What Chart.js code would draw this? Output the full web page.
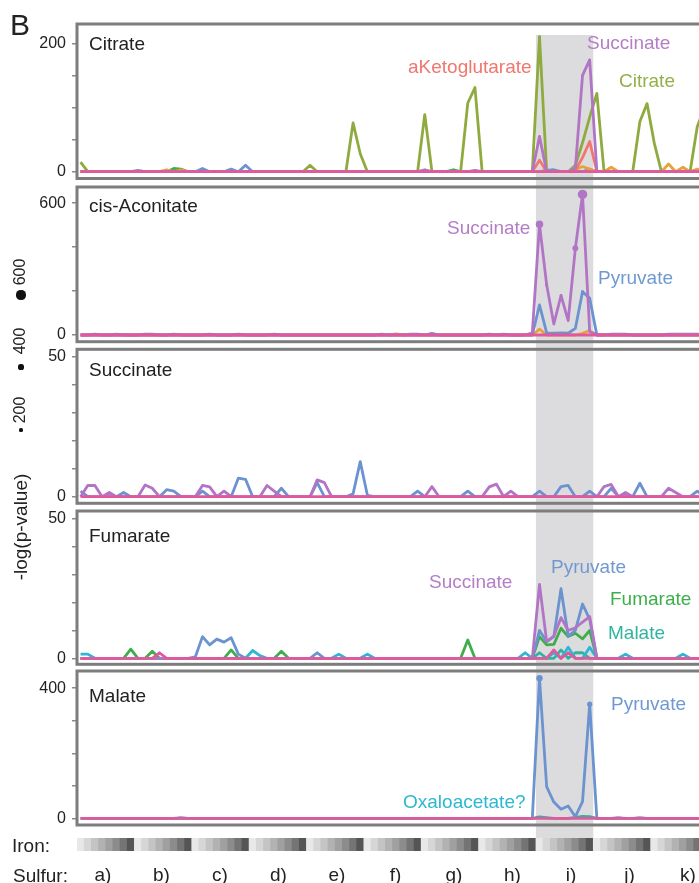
<!DOCTYPE html>
<html>
<head>
<meta charset="utf-8">
<script src="https://cdn.jsdelivr.net/npm/chart.js@4.4.1/dist/chart.umd.min.js"></script>
<style>
  body { margin: 0; background: #fff; }
  #fig { position: relative; width: 699px; height: 883px; overflow: hidden;
         font-family: "Liberation Sans", Arial, sans-serif; color: #222; }
  #fig canvas { position: absolute; left: 0; }
  #labels { position: absolute; left: 0; top: 0; width: 699px; height: 883px; z-index: 2; }
  .lbl { position: absolute; font-size: 19px; line-height: 19px; white-space: nowrap; }
  .rot { position: absolute; white-space: nowrap; line-height: 1; transform: translate(-50%, -50%) rotate(-90deg); }
  .dot { position: absolute; background: #111; border-radius: 50%; }
</style>
</head>
<body>
<div id="fig">
  <div id="labels">
    <div class="lbl" style="left:10px; top:10px; font-size:30px; line-height:30px;">B</div>

    <div class="rot" style="left:20px; top:527px; font-size:19px;">-log(p-value)</div>
    <div class="rot" style="left:20px; top:410px; font-size:16px;">200</div>
    <div class="rot" style="left:20px; top:341px; font-size:16px;">400</div>
    <div class="rot" style="left:20px; top:272px; font-size:16px;">600</div>
    <div class="dot" style="left:19.4px; top:428.4px; width:3.2px; height:3.2px;"></div>
    <div class="dot" style="left:18.4px; top:364.4px; width:5.2px; height:5.2px;"></div>
    <div class="dot" style="left:16.4px; top:290.4px; width:9.2px; height:9.2px;"></div>

    <div class="lbl" style="left:89px; top:34px;">Citrate</div>
    <div class="lbl" style="left:89px; top:196px;">cis-Aconitate</div>
    <div class="lbl" style="left:89px; top:360px;">Succinate</div>
    <div class="lbl" style="left:89px; top:526px;">Fumarate</div>
    <div class="lbl" style="left:89px; top:686px;">Malate</div>

    <div class="lbl" style="left:408px; top:57px; color:#f0766e;">aKetoglutarate</div>
    <div class="lbl" style="left:587px; top:33px; color:#b47ec6;">Succinate</div>
    <div class="lbl" style="left:619px; top:71px; color:#95b04a;">Citrate</div>
    <div class="lbl" style="left:447px; top:218px; color:#b47ec6;">Succinate</div>
    <div class="lbl" style="left:598px; top:268px; color:#7099d2;">Pyruvate</div>
    <div class="lbl" style="left:551px; top:557px; color:#7099d2;">Pyruvate</div>
    <div class="lbl" style="left:429px; top:572px; color:#b47ec6;">Succinate</div>
    <div class="lbl" style="left:610px; top:589px; color:#3fae4a;">Fumarate</div>
    <div class="lbl" style="left:608px; top:623px; color:#2fb59d;">Malate</div>
    <div class="lbl" style="left:611px; top:694px; color:#7099d2;">Pyruvate</div>
    <div class="lbl" style="left:403px; top:792px; color:#2db8d2;">Oxaloacetate?</div>

    <div class="lbl" style="left:12px; top:836px;">Iron:</div>
    <div class="lbl" style="left:13px; top:866px;">Sulfur:</div>
  </div>
</div>
<script>
// 11 sulfur conditions, each with 8 iron levels -> 88 samples
const sulfur = ['a)', 'b)', 'c)', 'd)', 'e)', 'f)', 'g)', 'h)', 'i)', 'j)', 'k)'];
const ironLevel = [
  0,1,2,3,4,5,6,7,  0,1,2,3,4,5,6,7,  0,1,2,3,4,5,6,7,  0,1,2,3,4,5,6,7,
  0,1,2,3,4,5,6,7,  0,1,2,3,4,5,6,7,  0,1,2,3,4,5,6,7,  0,1,2,3,4,5,6,7,
  0,1,2,3,4,5,6,7,  0,1,2,3,4,5,6,7,  0,1,2,3,4,5,6,7
];
const ironShades = ['#e8e8e8', '#d6d6d6', '#c4c4c4', '#b2b2b2', '#a0a0a0', '#8c8c8c', '#747474', '#555555'];
const bandSamples = [64, 71]; // condition i)

// Citrate panel
const p1Pink = [
  0,0,0,0,0,0,0,0,  0,0,0,0,0,0,0,0,  0,0,0,0,0,0,0,0,  0,0,0,0,0,0,0,0,
  0,0,0,0,0,0,0,0,  0,0,0,0,0,0,0,0,  0,0,0,0,0,0,0,0,  0,0,0,0,0,0,0,0,
  0,0,0,0,0,0,0,0,  0,0,0,0,0,0,0,0,  0,0,0,0,0,0,0,0
];
const p1Citrate = [
  15,0,0,0,0,0,0,0,  0,0,0,0,0,0,0,0,  0,0,0,0,0,0,0,0,  0,0,0,0,0,0,0,0,
  10,0,0,0,0,0,76,28,  0,0,0,0,0,0,0,0,  89,0,0,0,0,0,107,131,  0,0,0,0,0,0,0,0,
  210,0,0,0,0,10,45,85,  122,0,0,0,0,0,78,106,  45,0,0,0,0,0,70,100
];
const p1Succinate = [
  0,0,0,0,0,0,0,0,  0,0,0,0,0,0,0,0,  0,0,0,0,0,0,0,0,  0,0,0,0,0,0,0,0,
  0,0,0,0,0,0,0,0,  0,0,0,0,0,0,0,0,  3,0,0,0,0,0,0,2,  0,0,0,0,0,0,0,0,
  55,0,0,0,0,5,150,174,  0,0,0,0,0,0,0,0,  0,0,0,0,0,0,0,0
];
const p1Akg = [
  0,0,0,0,0,0,0,0,  0,0,0,0,0,0,0,0,  0,0,0,0,0,0,0,0,  0,0,0,0,0,0,0,0,
  0,0,0,0,0,0,0,0,  0,0,0,0,0,0,0,0,  0,0,0,0,0,0,0,0,  0,0,0,0,0,0,0,0,
  18,0,0,0,0,2,22,47,  0,0,0,0,0,0,0,0,  0,0,0,0,0,0,0,0
];
const p1Orange = [
  0,0,0,0,0,0,0,0,  0,0,0,0,3,0,3,0,  0,0,0,0,0,0,0,0,  0,0,0,0,0,0,0,0,
  0,0,0,0,0,0,0,0,  0,0,0,0,0,0,0,0,  0,0,0,0,0,0,0,0,  0,0,0,0,0,0,0,0,
  0,0,0,0,0,3,8,4,  0,0,7,0,0,0,0,0,  0,0,12,0,7,0,4,0
];
const p1Pyruvate = [
  0,0,0,0,0,0,0,0,  2,0,0,0,0,0,0,0,  0,5,0,0,0,4,0,10,  0,0,0,0,0,0,0,0,
  0,0,0,0,0,0,0,0,  0,0,0,0,0,0,0,0,  0,0,0,0,0,0,0,0,  0,0,0,0,0,0,0,0,
  0,2,3,0,0,0,0,4,  0,0,0,0,0,0,0,0,  0,0,0,0,0,0,0,0
];
const p1Fumarate = [
  0,0,0,0,0,0,0,0,  0,0,0,0,0,5,4,0,  0,0,0,0,0,0,0,0,  0,0,0,0,0,0,0,0,
  0,0,0,0,0,0,0,0,  0,0,0,0,0,0,0,0,  0,0,0,0,3,0,0,0,  0,0,0,0,0,0,0,0,
  0,0,0,0,0,0,0,0,  0,0,0,0,0,0,0,0,  0,0,0,0,0,0,0,0
];

// cis-Aconitate panel
const p2Pink = [
  0,0,0,0,0,0,0,0,  0,0,0,0,0,0,0,0,  0,0,0,0,0,0,0,0,  0,0,0,0,0,0,0,0,
  0,0,0,0,0,0,0,0,  0,0,0,0,0,0,0,0,  0,0,0,0,0,0,0,0,  0,0,0,0,0,0,0,0,
  0,0,0,0,0,0,0,0,  0,0,0,0,0,0,0,0,  0,0,0,0,0,0,0,0
];
const p2Succinate = [
  0,0,0,0,0,0,0,0,  0,0,0,0,0,0,0,0,  0,0,0,0,0,0,0,0,  0,0,0,0,0,0,0,0,
  0,0,0,0,0,0,0,0,  0,0,0,0,0,0,0,0,  0,0,0,0,0,0,0,0,  0,0,0,0,0,0,0,10,
  504,228,50,180,65,395,640,15,  0,0,0,0,0,0,0,0,  0,0,0,0,0,0,0,0
];
const p2Pyruvate = [
  0,0,4,0,0,4,0,0,  0,4,4,0,0,4,0,0,  0,0,4,0,0,0,4,0,  0,0,0,4,0,0,0,0,
  0,0,0,0,0,0,0,0,  0,0,4,0,0,0,4,4,  0,8,0,0,0,0,0,0,  0,4,0,4,0,0,0,0,
  137,10,8,10,8,30,197,167,  0,0,4,4,4,0,0,0,  0,0,4,4,4,4,4,0
];
const p2Orange = [
  0,0,0,0,0,0,0,0,  0,0,0,0,0,0,0,0,  0,0,0,0,0,0,0,0,  0,0,0,0,0,0,0,0,
  0,0,0,0,0,0,0,0,  0,0,0,0,5,0,0,0,  0,0,0,0,0,0,0,0,  0,0,0,0,0,0,0,0,
  27,0,0,0,0,0,8,20,  0,0,0,0,0,0,0,0,  0,0,0,0,0,0,0,0
];

// Succinate panel
const p3Pink = [
  0,0,0,0,0,0,0,0,  0,0,0,0,0,0,0,0,  0,0,0,0,0,0,0,0,  0,0,0,0,0,0,0,0,
  0,0,0,0,0,0,0,0,  0,0,0,0,0,0,0,0,  0,0,0,0,0,0,0,0,  0,0,0,0,0,0,0,0,
  0,0,0,0,0,0,0,0,  0,0,0,0,0,0,0,0,  0,0,0,0,0,0,0,0
];
const p3Succinate = [
  0,4,4,0,1.5,0,0,0,  0,4.2,3,0,0,0,0,0,  0,4,3.5,0,2,0,0,0,  0,0,4,2,0,0,0,0,
  0,6,5,0,0,0,0,0,  0,0,0,0,0,0,0,0,  0,3.6,0,0,0,0,0,0,  0,3.5,4.5,0,2,0,0,0,
  0,0,0,0,0,0,0,0,  0,3.6,4.4,0,1.5,0,0,0,  0,0,3,1.5,0,0,0,0
];
const p3Pyruvate = [
  2,0,0,0,0,0,1.5,0,  0,0,0,0,2.5,2,0,0,  0,2,0,0,0,0,6.6,6.2,  0,0,0,0,3,0,0,0,
  0,5,0,0,0,0,1,12.5,  0.5,0,0,0,0,0,0,2,  0,0,0,0,0,0,2,0,  0,0,0,0,0,0,0,0,
  2,0,0,3.6,4,0,0,2,  0,0,3,0,0,0,4.8,0,  0,0,0,0,0,0,2,0
];

// Fumarate panel
const p4Pink = [
  0,0,0,0,0,0,0,0,  0,0,0,2,0,0,0,0,  0,0,0,0,0,0,0,0,  0,0,0,0,0,0,0,0,
  0,0,0,0,0,0,0,0,  0,0,0,0,0,0,0,0,  0,0,0,0,0,0,0,0,  0,0,0,0,0,0,0,0,
  0,0,3,0,2,0,0,0,  0,0,0,0,0,0,0,0,  0,0,0,0,0,0,0,0
];
const p4Pyruvate = [
  0,0,0,0,0,0,0,0,  0,0,0,0,0,0,0,0,  0.5,7.8,4.8,6.9,5.8,7.4,1.5,0,  0,0,0,0,0,0,0,0,
  0,2,0,0,0,0,0,0,  0,0,0,0,0,0,0,0,  0,0,0,0,0,0,0,0,  0,0,0,0,0,0,0,0,
  10,6,7.8,25,8,10,19.5,14,  0,0,0,0,0,0,0,0,  0,0,0,0,0,0,0,0
];
const p4Succinate = [
  0,0,0,0,0,0,0,0,  0,0,0,0,0,0,0,0,  0,0,0,0,0,0,0,0,  0,0,0,0,0,0,0,0,
  0,0,0,0,0,0,0,0,  0,0,0,0,0,0,0,0,  0,0,0,0,0,0,0,0,  0,0,0,0,0,0,0,0,
  26.5,6,8,14.6,10,11,13,15,  0,0,0,0,0,0,0,0,  0,0,0,0,0,0,0,0
];
const p4Fumarate = [
  0,0,0,0,0,0,0,3.3,  0,0,2.5,0,0,0,0,0,  0,0,0,0,0,3,0,0,  0,0,0,0,2.5,0,0,0,
  0,0,0,0,0,0,0,0,  0,0,0,0,0,0,0,0,  0,0,0,0,0,0,6.6,0,  0,0,0,0,0,0,0,0,
  7.8,4.8,5,10.8,7.8,9,7,10,  0,0,0,0,0,0,0,0,  0,0,0,0,0,0,0,0
];
const p4Malate = [
  0,0,0,0,0,0,0,0,  0,0,0,0,0,0,0,0,  0,0,0,0,0,0,0,0,  0,0,0,0,0,0,0,0,
  0,0,0,0,0,0,0,0,  0,0,0,0,0,0,0,0,  0,0,0,0,0,0,0,0,  0,0,0,0,0,0,0,0,
  2,0,0,3,0,2,2,0,  0,0,0,0,0,0,0,0,  0,0,0,0,0,0,0,0
];
const p4Oxalo = [
  1.5,1.5,0,0,0,0,0,0,  0,0,0,0,0,0,0,0,  0,0,0,0,0,0,0,0,  2.8,1,0,0,0,0,0,0,
  0,0,0,0,1.5,0,0,0,  1.5,0,0,0,0,0,0,0,  0,0,0,0,0,0,0,0,  0,0,0,0,0,0,2,0,
  0,0,2,0,4,0,0,4,  0,0,0,0,1.5,0,0,0,  0,0,0,0,1.5,0,0,0
];

// Malate panel
const p5Pink = [
  0,0,0,0,0,0,0,0,  0,0,0,0,0,0,0,0,  0,0,0,0,0,0,0,0,  0,0,0,0,0,0,0,0,
  0,0,0,0,0,0,0,0,  0,0,0,0,0,0,0,0,  0,0,0,0,0,0,0,0,  0,0,0,0,0,0,0,0,
  0,0,0,0,0,0,0,0,  0,0,0,0,0,0,0,0,  0,0,0,0,0,0,0,0
];
const p5Pyruvate = [
  0,0,0,0,0,0,0,0,  0,0,0,0,0,0,2,0,  0,0,0,0,0,0,0,0,  0,0,0,0,0,0,0,0,
  0,0,0,0,0,0,0,0,  0,0,0,0,0,0,0,0,  0,0,0,0,0,0,0,0,  0,0,0,0,0,0,0,0,
  431,97,50,28,38,5,51,351,  0,0,0,2,0,0,2,0,  0,0,0,0,0,0,0,0
];
const p5Malate = [
  0,0,0,0,0,0,0,0,  0,0,0,0,0,0,0,0,  0,0,0,0,0,0,0,0,  0,0,0,0,0,0,0,0,
  0,0,0,0,0,0,0,0,  0,0,0,0,0,0,0,0,  0,0,0,0,0,0,0,0,  0,0,0,0,0,0,0,0,
  4,2,0,0,0,3,6,5,  0,0,0,0,0,0,0,0,  0,0,0,0,0,0,0,0
];

const colors = {
  pink: '#e2589c',
  citrate: '#8fab3f',
  succinate: '#b274c4',
  akg: '#f0766e',
  orange: '#e9a23b',
  pyruvate: '#6a93cf',
  fumarate: '#3fae4a',
  malate: '#2fb49b',
  oxalo: '#2db7d3'
};

const sampleIds = ironLevel.map((_, i) => i);
const fontFamily = '"Liberation Sans", Arial, sans-serif';
Chart.defaults.font.family = fontFamily;

// first series in each list is drawn on top
const panels = [
  { top: 0, height: 183, padTop: 24, padBottom: 4.5, yMin: -10.6, yMax: 230,
    ticks: [0, 50, 100, 150, 200], bandTop: 35,
    series: [['pink', p1Pink], ['succinate', p1Succinate], ['akg', p1Akg], ['citrate', p1Citrate],
             ['orange', p1Orange], ['pyruvate', p1Pyruvate], ['fumarate', p1Fumarate]] },
  { top: 183, height: 162, padTop: 4, padBottom: 3.3, yMin: -30.5, yMax: 674,
    ticks: [0, 200, 400, 600], bandTop: 0,
    series: [['pink', p2Pink], ['succinate', p2Succinate], ['pyruvate', p2Pyruvate], ['orange', p2Orange]] },
  { top: 345, height: 162, padTop: 4.3, padBottom: 3.7, yMin: -2.36, yMax: 52.6,
    ticks: [0, 10, 20, 30, 40, 50], bandTop: 0,
    series: [['pink', p3Pink], ['succinate', p3Succinate], ['pyruvate', p3Pyruvate]] },
  { top: 507, height: 161, padTop: 4, padBottom: 3.7, yMin: -2.15, yMax: 52.9,
    ticks: [0, 10, 20, 30, 40, 50], bandTop: 0,
    series: [['pink', p4Pink], ['succinate', p4Succinate], ['pyruvate', p4Pyruvate], ['fumarate', p4Fumarate],
             ['oxalo', p4Oxalo], ['malate', p4Malate]] },
  { top: 668, height: 164, padTop: 3, padBottom: 7, yMin: -20.6, yMax: 453,
    ticks: [0, 100, 200, 300, 400], bandTop: 0,
    series: [['pink', p5Pink], ['pyruvate', p5Pyruvate], ['malate', p5Malate]] }
];

// grey band behind condition i), and the grey frame round each panel
const bandFrame = {
  id: 'band',
  beforeDraw(chart, args, opts) {
    const { ctx, chartArea } = chart;
    const x = chart.scales.x;
    const half = (x.getPixelForValue(1) - x.getPixelForValue(0)) / 2;
    const x1 = x.getPixelForValue(bandSamples[0]) - half;
    const x2 = x.getPixelForValue(bandSamples[1]) + half;
    const y1 = opts.top || 0;
    const y2 = opts.toArea ? chartArea.top : chart.height;
    ctx.save();
    ctx.fillStyle = '#dcdcde';
    ctx.fillRect(x1, y1, x2 - x1, y2 - y1);
    ctx.restore();
  },
  afterDatasetsDraw(chart, args, opts) {
    if (!opts.frame) return;
    const { ctx, chartArea: a } = chart;
    ctx.save();
    ctx.strokeStyle = '#7d7d7d';
    ctx.lineWidth = 3;
    ctx.strokeRect(a.left, a.top, a.right - a.left, a.bottom - a.top);
    ctx.restore();
  }
};

const fig = document.getElementById('fig');

function addCanvas(top, height) {
  const canvas = document.createElement('canvas');
  canvas.width = 720;
  canvas.height = height;
  canvas.style.top = top + 'px';
  fig.appendChild(canvas);
  return canvas.getContext('2d');
}

panels.forEach(p => {
  const ctx = addCanvas(p.top, p.height);
  new Chart(ctx, {
    type: 'line',
    data: {
      labels: sampleIds,
      datasets: p.series.map(([key, values]) => ({
        data: values,
        borderColor: colors[key],
        backgroundColor: colors[key],
        borderWidth: 2.8,
        borderJoinStyle: 'round',
        tension: 0,
        pointRadius: c => (c.raw >= 150 ? c.raw / 135 : 0),
        pointBorderWidth: 0,
        pointHoverRadius: 0
      }))
    },
    options: {
      responsive: false,
      animation: false,
      events: [],
      layout: { padding: { top: p.padTop, bottom: p.padBottom, left: 0, right: 12 } },
      plugins: {
        legend: { display: false },
        tooltip: { enabled: false },
        band: { top: p.bandTop, frame: true }
      },
      scales: {
        x: { display: false, offset: true },
        y: {
          min: p.yMin,
          max: p.yMax,
          afterBuildTicks: axis => { axis.ticks = p.ticks.map(v => ({ value: v })); },
          afterFit: axis => { axis.width = 77; axis.paddingTop = 0; axis.paddingBottom = 0; },
          ticks: {
            callback: (v, i, t) => (i === 0 || i === t.length - 1 ? v : ''),
            font: { size: 16 },
            color: '#222',
            padding: 6
          },
          grid: { drawOnChartArea: false, tickLength: 5, color: '#8a8a8a', lineWidth: 1.5 },
          border: { display: false }
        }
      }
    },
    plugins: [bandFrame]
  });
});

// iron gradient strip with the sulfur conditions below it
const ironCtx = addCanvas(832, 56);
new Chart(ironCtx, {
  type: 'bar',
  data: {
    labels: sampleIds,
    datasets: [{
      data: ironLevel.map(() => 1),
      backgroundColor: ironLevel.map(l => ironShades[l]),
      borderWidth: 0,
      barPercentage: 1,
      categoryPercentage: 1
    }]
  },
  options: {
    responsive: false,
    animation: false,
    events: [],
    layout: { padding: { top: 6, bottom: 0, left: 77, right: 12 } },
    plugins: {
      legend: { display: false },
      tooltip: { enabled: false },
      band: { top: 0, toArea: true, frame: false }
    },
    scales: {
      x: { display: false },
      y: { display: false, min: 0, max: 1 },
      x2: {
        type: 'linear',
        position: 'bottom',
        offset: false,
        bounds: 'data',
        min: -0.444,
        max: 10.342,
        afterBuildTicks: axis => { axis.ticks = sulfur.map((_, i) => ({ value: i })); },
        afterFit: axis => { axis.height = 37; axis.paddingLeft = 0; axis.paddingRight = 0; },
        ticks: {
          callback: v => sulfur[v],
          font: { size: 19 },
          color: '#222',
          padding: 13,
          autoSkip: false,
          maxRotation: 0
        },
        grid: { display: false, drawTicks: false },
        border: { display: false }
      }
    }
  },
  plugins: [bandFrame]
});
</script>
</body>
</html>
